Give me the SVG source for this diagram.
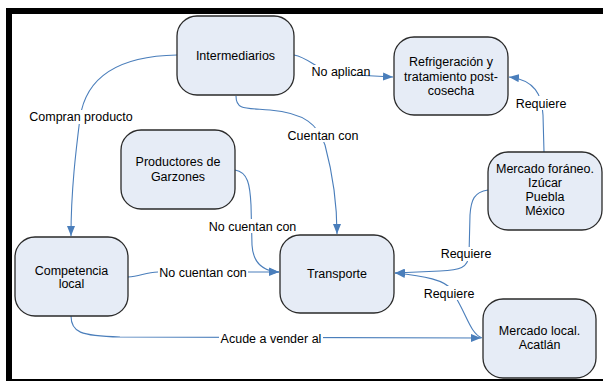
<svg xmlns="http://www.w3.org/2000/svg" width="603" height="381" viewBox="0 0 603 381">
<defs>
<style>
.node rect{fill:#E6ECF6;stroke:#2a2a2a;stroke-width:1.3}
text{font-family:"Liberation Sans",Arial,sans-serif;font-size:12.5px;fill:#000;text-anchor:middle}
.conn path{fill:none;stroke:#4A7EBB;stroke-width:1.1}
.lbl rect{fill:#fff}
</style>
<marker id="arr" markerUnits="userSpaceOnUse" markerWidth="11" markerHeight="8" refX="10" refY="4" orient="auto">
<path d="M0,0 L10,4 L0,8 z" fill="#4A7EBB"/>
</marker>
</defs>
<rect x="9" y="11" width="600" height="371" fill="#fff" stroke="#000" stroke-width="6"/>
<g id="connectors" class="conn">
<path d="M177,55 C120,56 86,76 80,118 C76,150 71,190 71,236" marker-end="url(#arr)"/>
<path d="M294,55 C310,58 316,70 336,74 L393,77" marker-end="url(#arr)"/>
<path d="M236,96 C236,110 245,108 270,110 C305,113 318,125 325,145 C333,175 337,200 337,234" marker-end="url(#arr)"/>
<path d="M235,170 C248,172 250,185 251,205 L252,245 C253,262 262,271 279,272" marker-end="url(#arr)"/>
<path d="M128,277 C140,277 145,272 158,272 L279,272" marker-end="url(#arr)"/>
<path d="M544,152 L543,115 C542,95 535,80 509,77" marker-end="url(#arr)"/>
<path d="M488,190 C474,192 471,200 470,215 L469,255 C468,268 460,270 440,271 L395,273" marker-end="url(#arr)"/>
<path d="M482,338 C472,334 468,320 460,305 L452,290 C445,280 425,276 395,273" marker-end="url(#arr)"/>
<path d="M71,316 C71,332 80,336 120,337 L481,338" marker-end="url(#arr)"/>
<g class="lbl">
<rect x="29" y="110" width="104" height="14"/><text x="81" y="121">Compran producto</text>
<rect x="311" y="65" width="60" height="10"/><text x="341" y="76">No aplican</text>
<rect x="287" y="128" width="72" height="14"/><text x="323" y="139.5">Cuentan con</text>
<rect x="208" y="219" width="89" height="14"/><text x="252.5" y="230.5">No cuentan con</text>
<rect x="158" y="265" width="90" height="13"/><text x="203" y="276.5">No cuentan con</text>
<rect x="515" y="96" width="52" height="14"/><text x="541" y="107.5">Requiere</text>
<rect x="440" y="247" width="53" height="14"/><text x="466" y="258">Requiere</text>
<rect x="423" y="286" width="52" height="14"/><text x="449" y="297.5">Requiere</text>
<rect x="219" y="331" width="104" height="14"/><text x="271" y="342.5">Acude a vender al</text>
</g>
</g>
<g id="n-intermediarios" class="node"><rect x="177" y="16" width="117" height="79" rx="20"/><text x="235.5" y="59.5">Intermediarios</text></g>
<g id="n-refrigeracion" class="node"><rect x="394" y="37" width="114" height="78" rx="20"/><text x="451" y="66">Refrigeración y</text><text x="451" y="81">tratamiento post-</text><text x="451" y="95">cosecha</text></g>
<g id="n-productores" class="node"><rect x="121" y="130" width="114" height="79" rx="20"/><text x="178" y="166">Productores de</text><text x="178" y="181">Garzones</text></g>
<g id="n-foraneo" class="node"><rect x="488" y="152" width="114" height="78" rx="20"/><text x="545" y="173">Mercado foráneo.</text><text x="545" y="187">Izúcar</text><text x="545" y="201">Puebla</text><text x="545" y="215">México</text></g>
<g id="n-competencia" class="node"><rect x="15" y="237" width="113" height="79" rx="20"/><text x="71.5" y="274.5">Competencia</text><text x="71.5" y="288">local</text></g>
<g id="n-transporte" class="node"><rect x="280" y="235" width="114" height="78" rx="20"/><text x="337" y="278">Transporte</text></g>
<g id="n-local" class="node"><rect x="483" y="299" width="113" height="79" rx="20"/><text x="539.5" y="334.5">Mercado local.</text><text x="539.5" y="349">Acatlán</text></g>
</svg>
